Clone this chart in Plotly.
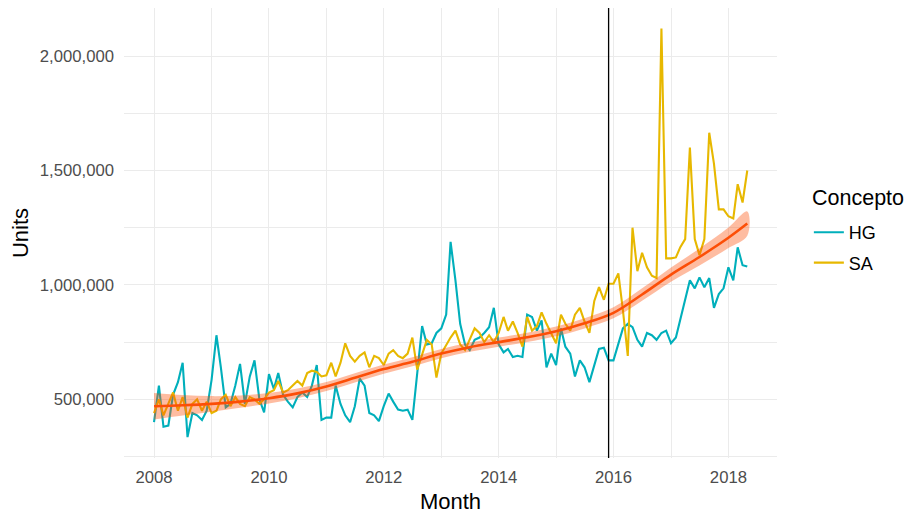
import pandas as pd
import plotly.graph_objects as go

# ---------------- data (values in thousands of units) ----------------
months = pd.date_range("2008-01-01", periods=125, freq="MS")

hg_k = [
    400, 560, 380, 385, 520, 575, 660, 335, 440, 430, 410, 450,      # 2008
    585, 780, 640, 465, 480, 560, 655, 480, 600, 670, 500, 443,      # 2009
    610, 545, 615, 520, 490, 465, 510, 530, 510, 560, 650, 410,      # 2010
    420, 420, 560, 480, 430, 400, 470, 590, 560, 440, 430, 405,      # 2011
    470, 525, 490, 455, 450, 455, 410, 620, 820, 740, 745, 790,      # 2012
    810, 870, 1188, 1020, 830, 740, 715, 760, 770, 790, 815, 900,    # 2013
    740, 705, 720, 685, 690, 685, 870, 860, 800, 845, 640, 700,      # 2014
    650, 810, 730, 700, 600, 670, 640, 575, 650, 720, 725, 670,      # 2015
    670, 740, 810, 830, 815, 760, 730, 790, 780, 760, 790, 800,      # 2016
    745, 770, 850, 940, 1020, 985, 1033, 990, 1030, 900, 960, 985,   # 2017
    1077, 1020, 1164, 1086, 1080,                                    # 2018
]

sa_k = [
    440, 500, 430, 480, 530, 450, 510, 420, 480, 500, 450, 490,      # 2008
    440, 450, 500, 520, 470, 510, 480, 470, 510, 500, 480, 500,      # 2009
    530, 540, 580, 530, 540, 560, 580, 560, 615, 625, 620, 600,      # 2010
    605, 660, 600, 660, 745, 690, 665, 690, 705, 640, 690, 680,      # 2011
    650, 700, 715, 690, 680, 700, 770, 630, 700, 760, 740, 595,      # 2012
    700, 740, 770, 800, 740, 715, 760, 810, 790, 750, 780, 750,      # 2013
    790, 860, 800, 840, 790, 730, 860, 800, 820, 880, 830, 790,      # 2014
    745, 870, 830, 800, 870, 900, 840, 790, 930, 990, 935, 1005,     # 2015
    1005, 1050, 890, 690, 1250, 1060, 1140, 1077, 1040, 1030, 2120, 1116,  # 2016
    1116, 1120, 1165, 1200, 1600, 1200, 1130, 1200, 1665, 1530, 1330, 1330,  # 2017
    1300, 1290, 1440, 1360, 1500,                                    # 2018
]

# smoothed trend (fit and half-width of its band)
smooth_dates = ["2008-01-01", "2008-07-01", "2009-01-01", "2009-07-01", "2010-01-01",
                "2010-07-01", "2011-01-01", "2011-07-01", "2012-01-01", "2012-07-01",
                "2013-01-01", "2013-07-01", "2014-01-01", "2014-07-01", "2015-01-01",
                "2015-07-01", "2016-01-01", "2016-07-01", "2017-01-01", "2017-07-01",
                "2018-01-01", "2018-05-01"]
smooth_k = [470, 474, 480, 490, 505, 526, 556, 594, 632, 664, 700, 728, 750, 771,
            797, 832, 878, 958, 1045, 1122, 1206, 1268]
band_k = [58, 45, 34, 27, 23, 21, 20, 20, 20, 20, 20, 20, 20, 20,
          21, 22, 24, 27, 31, 37, 45, 53]

event_date = "2015-12-01"

year_ticks = [2008, 2010, 2012, 2014, 2016, 2018]
minor_years = [2009, 2011, 2013, 2015, 2017]
y_ticks = [500000, 1000000, 1500000, 2000000]
y_minor = [250000, 750000, 1250000, 1750000]

# ---------------- figure ----------------
HG_COL = "#00AFBB"
SA_COL = "#E7B800"
FIT_COL = "#FC4E07"
FONT = "Liberation Sans, Arial, sans-serif"

# the page body adds an 8px offset; the figure is sized to fit the window
W, H, OFF = 905, 507, 8
L, R, T, B = 124 - OFF, 136, 0, 57

hg = [v * 1000 for v in hg_k]
sa = [v * 1000 for v in sa_k]
fit = [v * 1000 for v in smooth_k]
upper = [(a + b) * 1000 for a, b in zip(smooth_k, band_k)]
lower = [(a - b) * 1000 for a, b in zip(smooth_k, band_k)]

fig = go.Figure()
fig.add_trace(go.Scatter(x=months, y=hg, mode="lines", name="HG", legendgroup="HG",
                         line=dict(color=HG_COL, width=2.1)))
fig.add_trace(go.Scatter(x=months, y=sa, mode="lines", name="SA", legendgroup="SA",
                         line=dict(color=SA_COL, width=2.1)))
fig.add_trace(go.Scatter(x=smooth_dates + smooth_dates[::-1], y=upper + lower[::-1],
                         mode="lines", fill="toself", fillcolor="rgba(252,78,7,0.38)",
                         line=dict(width=0, shape="spline"), hoverinfo="skip",
                         showlegend=False))
fig.add_trace(go.Scatter(x=smooth_dates, y=fit, mode="lines",
                         line=dict(color=FIT_COL, width=2.6, shape="spline"),
                         showlegend=False))

fig.add_shape(type="line", xref="x", yref="paper", x0=event_date, x1=event_date,
              y0=0, y1=1, line=dict(color="black", width=1.3))

plot_h = H - T - B  # 450

# legend title
fig.add_annotation(text="Concepto", xref="paper", yref="paper",
                   x=1.0, y=1 - (198 - 8) / plot_h, xshift=33,
                   xanchor="left", yanchor="middle", showarrow=False,
                   font=dict(size=21.5, color="black", family=FONT))

grid = "#EBEBEB"
fig.update_layout(
    width=W, height=H,
    margin=dict(l=L, r=R, t=T, b=B, autoexpand=False),
    paper_bgcolor="white", plot_bgcolor="white",
    font=dict(family=FONT, color="#4D4D4D", size=16.7),
    legend=dict(font=dict(size=18, color="black"),
                x=1.0488, xanchor="left", y=1 - (214 - 8) / plot_h, yanchor="top",
                tracegroupgap=4, itemwidth=30, bgcolor="rgba(0,0,0,0)"),
    xaxis=dict(
        type="date", automargin=False,
        range=["2007-06-24", "2018-11-06"],
        tickvals=[f"{y}-01-01" for y in year_ticks],
        ticktext=[str(y) for y in year_ticks],
        showgrid=True, gridcolor=grid, gridwidth=1.1,
        minor=dict(tickvals=[f"{y}-01-01" for y in minor_years], showgrid=True,
                   gridcolor=grid, gridwidth=1.1),
        zeroline=False, showline=False, ticks="",
        tickfont=dict(size=16.7, color="#4D4D4D"),
        ticklabelstandoff=7,
        title=dict(text="Month", font=dict(size=22, color="black"), standoff=7),
    ),
    yaxis=dict(
        automargin=False,
        range=[243600, 2210000],
        tickvals=y_ticks,
        ticktext=[f"{v:,}" for v in y_ticks],
        showgrid=True, gridcolor=grid, gridwidth=1.1,
        minor=dict(tickvals=y_minor, showgrid=True, gridcolor=grid, gridwidth=1.1),
        zeroline=False, showline=False, ticks="",
        tickfont=dict(size=16.7, color="#4D4D4D"),
        ticklabelstandoff=9,
        title=dict(text="Units", font=dict(size=22, color="black"), standoff=5),
    ),
)

fig.write_html("out.html")
